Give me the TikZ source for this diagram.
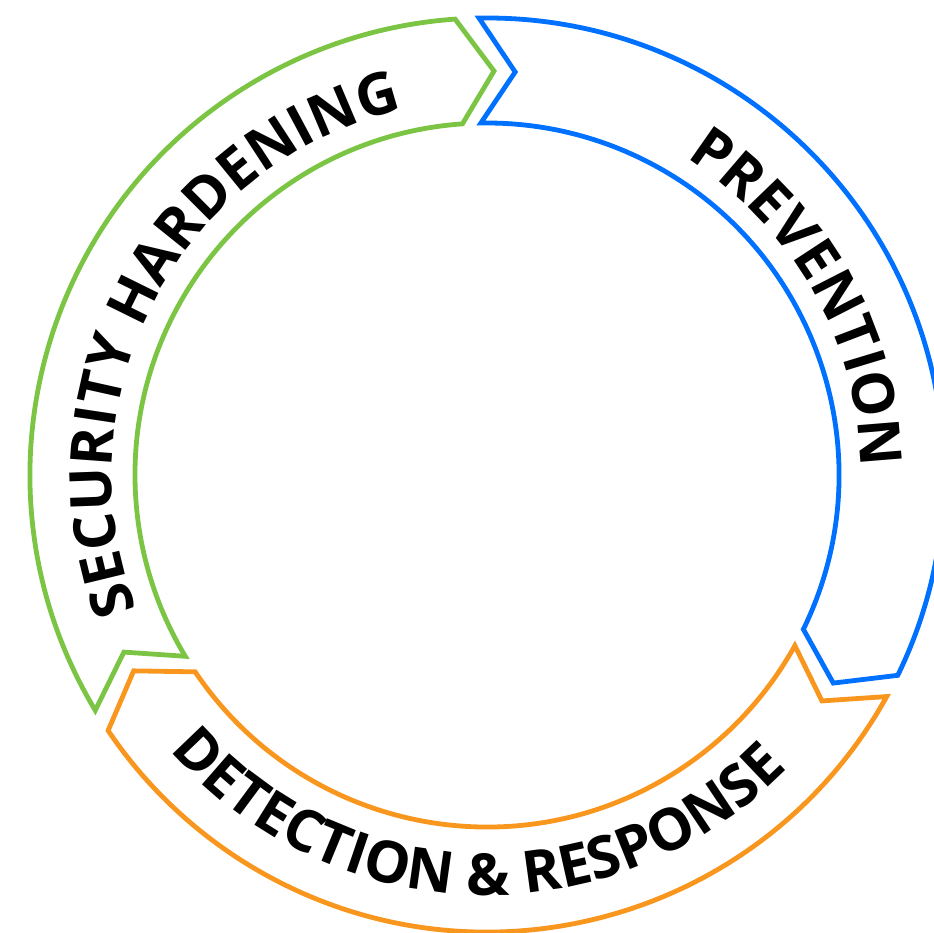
\documentclass[tikz,border=0pt]{standalone}
\usepackage{fontspec}
\setsansfont{Open Sans}
\usepackage{tikz}
\usetikzlibrary{decorations.text}

\definecolor{hardgreen}{RGB}{124,197,68}
\definecolor{prevblue}{RGB}{0,112,255}
\definecolor{detorange}{RGB}{248,150,30}
\newcommand\ringfont{\sffamily\bfseries\fontsize{58}{58}\selectfont}

\begin{document}
\begin{tikzpicture}
	\useasboundingbox (-487pt,-457pt) rectangle (447pt,475pt);
	\clip (-487pt,-457pt) rectangle (447pt,475pt);
	\begin{scope}[line width=4.8pt, line join=miter]
		% security hardening
		\draw[hardgreen] (211:457pt) arc[start angle=211, end angle=94, radius=457pt]
			-- (89:404pt) -- (94:352pt) arc[start angle=94, end angle=211, radius=352pt]
			-- (206:404pt) -- cycle;
		% prevention
		\draw[prevblue] (91:457pt) arc[start angle=91, end angle=-26, radius=457pt]
			-- (-31:404pt) -- (-26:352pt) arc[start angle=-26, end angle=91, radius=352pt]
			-- (86:404pt) -- cycle;
		% detection & response
		\draw[detorange] (-29:457pt) arc[start angle=-29, end angle=-146, radius=457pt]
			-- (-151:404pt) -- (-146:352pt) arc[start angle=-146, end angle=-29, radius=352pt]
			-- (-34:404pt) -- cycle;
	\end{scope}
	\begin{scope}[ringlabel/.style={decorate, decoration={text along path,
			text align=center, text={|\ringfont|#1}}}]
		\path[ringlabel={SECURITY HARDENING}]
			(212:375pt) arc[start angle=212, end angle=92, radius=375pt];
		\path[ringlabel={PREVENTION}]
			(89.5:374pt) arc[start angle=89.5, end angle=-30.5, radius=374pt];
		\path[ringlabel={DETECTION {\&} RESPONSE}]
			(208.3:420pt) arc[start angle=208.3, end angle=328.3, radius=420pt];
	\end{scope}
\end{tikzpicture}
\end{document}
